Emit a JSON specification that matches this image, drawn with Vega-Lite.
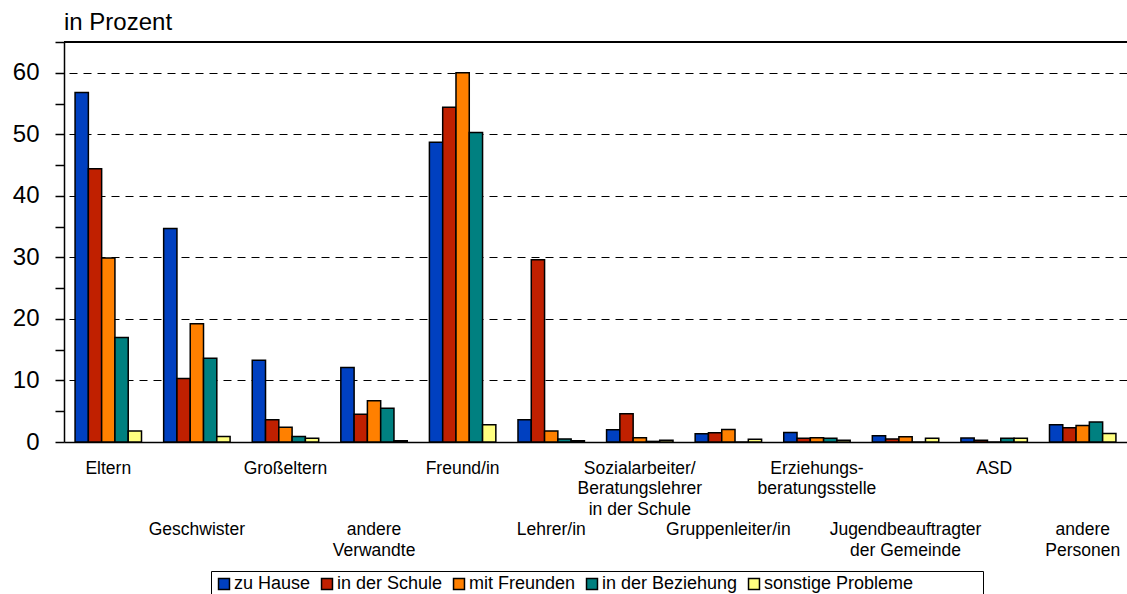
{
  "$schema": "https://vega.github.io/schema/vega-lite/v6.json",
  "width": 1063,
  "height": 400,
  "autosize": {"type": "none"},
  "padding": {"left": 64, "top": 42, "right": 0, "bottom": 152},
  "background": "white",
  "config": {"view": {"stroke": null}, "font": "Liberation Sans"},
  "title": {"text": "in Prozent", "anchor": "start", "frame": "group", "fontSize": 24, "font": "Liberation Sans", "fontWeight": "normal", "color": "black", "baseline": "alphabetic", "offset": 12, "dy": 25},
  "data": {"values": [
    {"Person": "Eltern", "Problem": "zu Hause", "Prozent": 56.8},
    {"Person": "Eltern", "Problem": "in der Schule", "Prozent": 44.4},
    {"Person": "Eltern", "Problem": "mit Freunden", "Prozent": 29.9},
    {"Person": "Eltern", "Problem": "in der Beziehung", "Prozent": 17.0},
    {"Person": "Eltern", "Problem": "sonstige Probleme", "Prozent": 1.8},
    {"Person": "Geschwister", "Problem": "zu Hause", "Prozent": 34.7},
    {"Person": "Geschwister", "Problem": "in der Schule", "Prozent": 10.3},
    {"Person": "Geschwister", "Problem": "mit Freunden", "Prozent": 19.2},
    {"Person": "Geschwister", "Problem": "in der Beziehung", "Prozent": 13.6},
    {"Person": "Geschwister", "Problem": "sonstige Probleme", "Prozent": 0.9},
    {"Person": "Großeltern", "Problem": "zu Hause", "Prozent": 13.3},
    {"Person": "Großeltern", "Problem": "in der Schule", "Prozent": 3.6},
    {"Person": "Großeltern", "Problem": "mit Freunden", "Prozent": 2.4},
    {"Person": "Großeltern", "Problem": "in der Beziehung", "Prozent": 0.9},
    {"Person": "Großeltern", "Problem": "sonstige Probleme", "Prozent": 0.6},
    {"Person": "andere Verwandte", "Problem": "zu Hause", "Prozent": 12.1},
    {"Person": "andere Verwandte", "Problem": "in der Schule", "Prozent": 4.5},
    {"Person": "andere Verwandte", "Problem": "mit Freunden", "Prozent": 6.7},
    {"Person": "andere Verwandte", "Problem": "in der Beziehung", "Prozent": 5.5},
    {"Person": "andere Verwandte", "Problem": "sonstige Probleme", "Prozent": 0.2},
    {"Person": "Freund/in", "Problem": "zu Hause", "Prozent": 48.7},
    {"Person": "Freund/in", "Problem": "in der Schule", "Prozent": 54.4},
    {"Person": "Freund/in", "Problem": "mit Freunden", "Prozent": 60.0},
    {"Person": "Freund/in", "Problem": "in der Beziehung", "Prozent": 50.3},
    {"Person": "Freund/in", "Problem": "sonstige Probleme", "Prozent": 2.8},
    {"Person": "Lehrer/in", "Problem": "zu Hause", "Prozent": 3.6},
    {"Person": "Lehrer/in", "Problem": "in der Schule", "Prozent": 29.6},
    {"Person": "Lehrer/in", "Problem": "mit Freunden", "Prozent": 1.8},
    {"Person": "Lehrer/in", "Problem": "in der Beziehung", "Prozent": 0.5},
    {"Person": "Lehrer/in", "Problem": "sonstige Probleme", "Prozent": 0.2},
    {"Person": "Sozialarbeiter/Beratungslehrer in der Schule", "Problem": "zu Hause", "Prozent": 2.0},
    {"Person": "Sozialarbeiter/Beratungslehrer in der Schule", "Problem": "in der Schule", "Prozent": 4.6},
    {"Person": "Sozialarbeiter/Beratungslehrer in der Schule", "Problem": "mit Freunden", "Prozent": 0.7},
    {"Person": "Sozialarbeiter/Beratungslehrer in der Schule", "Problem": "in der Beziehung", "Prozent": 0.1},
    {"Person": "Sozialarbeiter/Beratungslehrer in der Schule", "Problem": "sonstige Probleme", "Prozent": 0.3},
    {"Person": "Gruppenleiter/in", "Problem": "zu Hause", "Prozent": 1.35},
    {"Person": "Gruppenleiter/in", "Problem": "in der Schule", "Prozent": 1.5},
    {"Person": "Gruppenleiter/in", "Problem": "mit Freunden", "Prozent": 2.05},
    {"Person": "Gruppenleiter/in", "Problem": "in der Beziehung", "Prozent": 0},
    {"Person": "Gruppenleiter/in", "Problem": "sonstige Probleme", "Prozent": 0.45},
    {"Person": "Erziehungsberatungsstelle", "Problem": "zu Hause", "Prozent": 1.55},
    {"Person": "Erziehungsberatungsstelle", "Problem": "in der Schule", "Prozent": 0.6},
    {"Person": "Erziehungsberatungsstelle", "Problem": "mit Freunden", "Prozent": 0.7},
    {"Person": "Erziehungsberatungsstelle", "Problem": "in der Beziehung", "Prozent": 0.6},
    {"Person": "Erziehungsberatungsstelle", "Problem": "sonstige Probleme", "Prozent": 0.3},
    {"Person": "Jugendbeauftragter der Gemeinde", "Problem": "zu Hause", "Prozent": 1.0},
    {"Person": "Jugendbeauftragter der Gemeinde", "Problem": "in der Schule", "Prozent": 0.5},
    {"Person": "Jugendbeauftragter der Gemeinde", "Problem": "mit Freunden", "Prozent": 0.85},
    {"Person": "Jugendbeauftragter der Gemeinde", "Problem": "in der Beziehung", "Prozent": 0},
    {"Person": "Jugendbeauftragter der Gemeinde", "Problem": "sonstige Probleme", "Prozent": 0.6},
    {"Person": "ASD", "Problem": "zu Hause", "Prozent": 0.65},
    {"Person": "ASD", "Problem": "in der Schule", "Prozent": 0.3},
    {"Person": "ASD", "Problem": "mit Freunden", "Prozent": 0},
    {"Person": "ASD", "Problem": "in der Beziehung", "Prozent": 0.6},
    {"Person": "ASD", "Problem": "sonstige Probleme", "Prozent": 0.6},
    {"Person": "andere Personen", "Problem": "zu Hause", "Prozent": 2.8},
    {"Person": "andere Personen", "Problem": "in der Schule", "Prozent": 2.3},
    {"Person": "andere Personen", "Problem": "mit Freunden", "Prozent": 2.7},
    {"Person": "andere Personen", "Problem": "in der Beziehung", "Prozent": 3.25},
    {"Person": "andere Personen", "Problem": "sonstige Probleme", "Prozent": 1.4}
  ]},
  "layer": [
    {
      "mark": {"type": "bar", "stroke": "black", "strokeWidth": 1.5},
      "encoding": {
        "x": {
          "field": "Person", "type": "nominal",
          "sort": ["Eltern", "Geschwister", "Großeltern", "andere Verwandte", "Freund/in", "Lehrer/in", "Sozialarbeiter/Beratungslehrer in der Schule", "Gruppenleiter/in", "Erziehungsberatungsstelle", "Jugendbeauftragter der Gemeinde", "ASD", "andere Personen"],
          "scale": {"paddingInner": 0.25, "paddingOuter": 0.125},
          "axis": {
            "title": null, "domainColor": "black", "domainWidth": 1.5, "ticks": false, "tickSize": 0,
            "labelFont": "Liberation Sans", "labelFontSize": 17.5, "labelColor": "black", "labelAngle": 0,
            "labelPadding": 17, "labelBaseline": "top", "labelLineHeight": 20.5, "labelOverlap": false, "labelLimit": 0,
            "labelExpr": "{'Eltern':['Eltern'],'Geschwister':['\u200b','\u200b','\u200b','Geschwister'],'Großeltern':['Großeltern'],'andere Verwandte':['\u200b','\u200b','\u200b','andere','Verwandte'],'Freund/in':['Freund/in'],'Lehrer/in':['\u200b','\u200b','\u200b','Lehrer/in'],'Sozialarbeiter/Beratungslehrer in der Schule':['Sozialarbeiter/','Beratungslehrer','in der Schule'],'Gruppenleiter/in':['\u200b','\u200b','\u200b','Gruppenleiter/in'],'Erziehungsberatungsstelle':['Erziehungs-','beratungsstelle'],'Jugendbeauftragter der Gemeinde':['\u200b','\u200b','\u200b','Jugendbeauftragter','der Gemeinde'],'ASD':['ASD'],'andere Personen':['\u200b','\u200b','\u200b','andere','Personen']}[datum.value]"
          }
        },
        "xOffset": {
          "field": "Problem", "type": "nominal",
          "sort": ["zu Hause", "in der Schule", "mit Freunden", "in der Beziehung", "sonstige Probleme"],
          "scale": {"paddingInner": 0, "paddingOuter": 0}
        },
        "y": {
          "field": "Prozent", "type": "quantitative",
          "scale": {"domain": [0, 65], "nice": false},
          "axis": {
            "title": null,
            "values": [0, 5, 10, 15, 20, 25, 30, 35, 40, 45, 50, 55, 60, 65],
            "labelExpr": "datum.value % 10 === 0 && datum.value < 65 ? datum.label : ''",
            "domainColor": "black", "domainWidth": 1.5,
            "tickColor": "black", "tickSize": 9, "tickWidth": 1.5,
            "labelFont": "Liberation Sans", "labelFontSize": 24, "labelColor": "black", "labelPadding": 16,
            "grid": false
          }
        },
        "color": {
          "field": "Problem", "type": "nominal",
          "sort": ["zu Hause", "in der Schule", "mit Freunden", "in der Beziehung", "sonstige Probleme"],
          "scale": {
            "domain": ["zu Hause", "in der Schule", "mit Freunden", "in der Beziehung", "sonstige Probleme"],
            "range": ["#0040C0", "#C02000", "#FF8000", "#008080", "#FFFF80"]
          },
          "legend": {
            "title": null, "orient": "none", "legendX": 147, "legendY": 529, "direction": "horizontal",
            "strokeColor": "black", "padding": 4, "fillColor": "white",
            "symbolType": "square", "symbolSize": 120, "symbolStrokeColor": "black", "symbolStrokeWidth": 1.5, "symbolOpacity": 1,
            "labelFont": "Liberation Sans", "labelFontSize": 18, "labelColor": "black", "labelOffset": 1, "columnPadding": 7, "labelLimit": 400,
            "labelExpr": "datum.label === 'sonstige Probleme' ? datum.label + '\u00a0\u00a0\u00a0\u00a0\u00a0\u00a0\u00a0\u00a0\u00a0\u00a0\u00a0\u00a0\u00a0\u200b' : datum.label"
          }
        }
      }
    },
    {
      "mark": {"type": "rule", "color": "black", "strokeWidth": 1.5},
      "encoding": {
        "y": {
          "datum": 65,
          "type": "quantitative",
          "axis": {
            "orient": "right", "title": null, "values": [10, 20, 30, 40, 50, 60],
            "labels": false, "ticks": false, "domain": false,
            "grid": true, "gridColor": "black", "gridDash": [8, 6], "gridWidth": 1, "gridOpacity": 1
          }
        }
      }
    }
  ],
  "resolve": {"axis": {"y": "independent"}}
}
